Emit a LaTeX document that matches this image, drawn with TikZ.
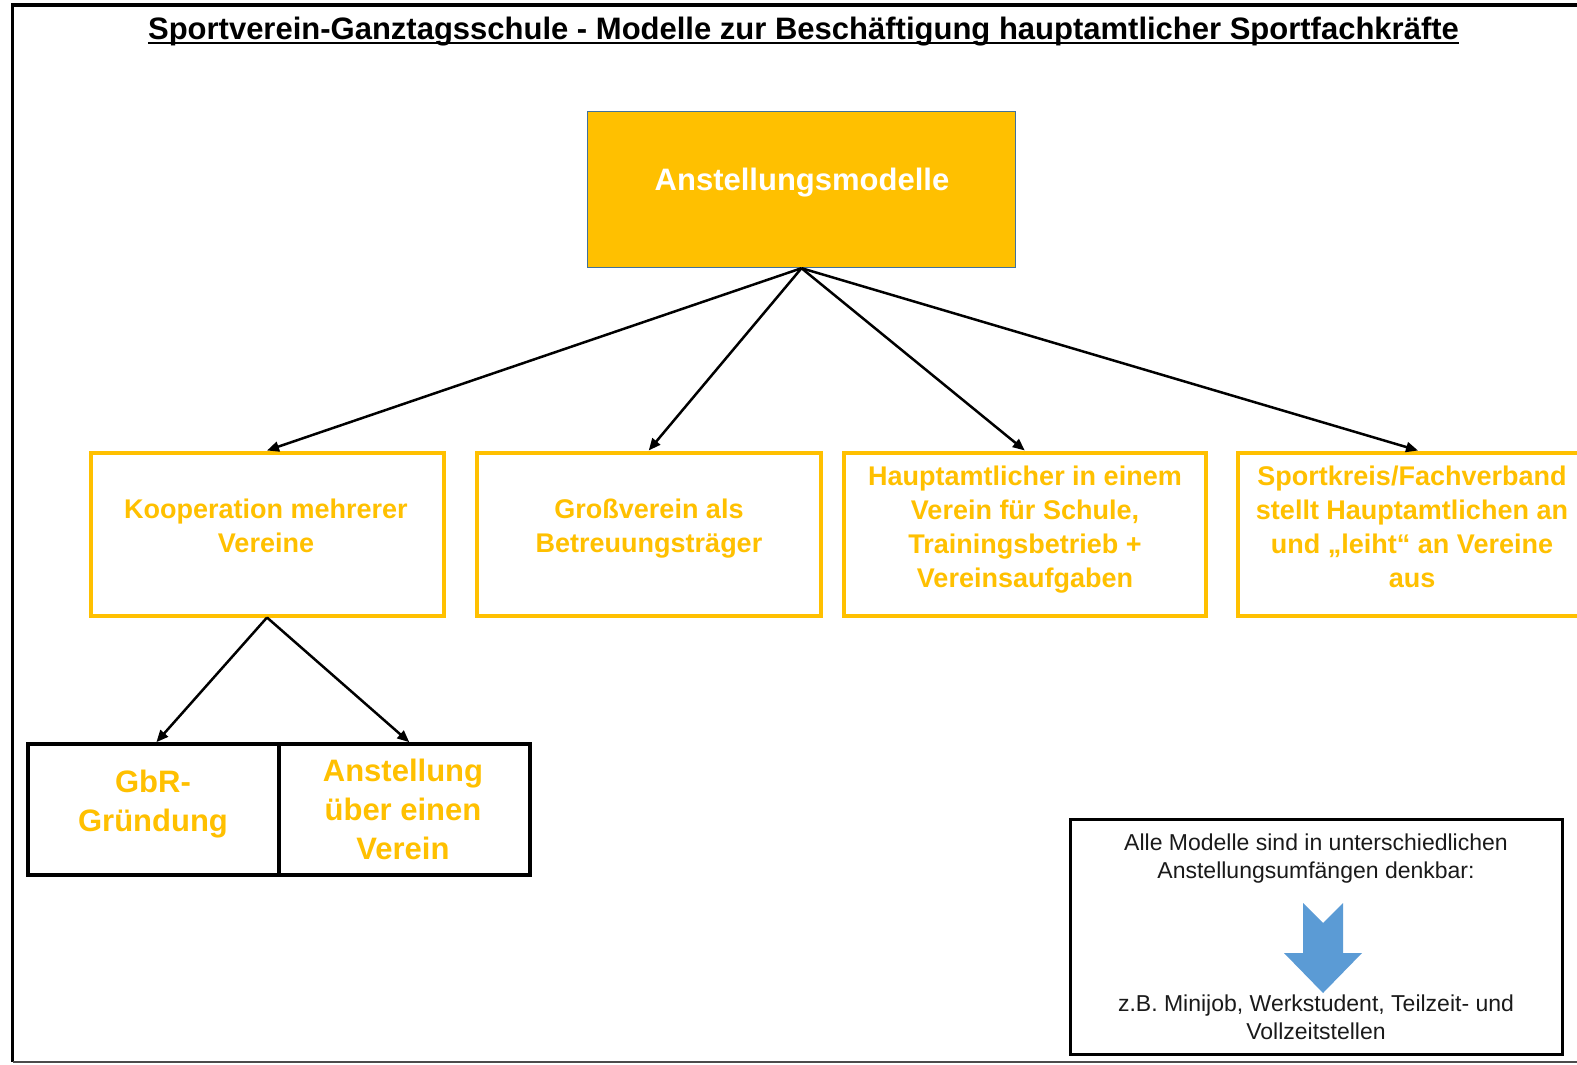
\documentclass[tikz,border=0pt]{standalone}
\usepackage{fontspec}
\setmainfont{Liberation Sans}
\usetikzlibrary{arrows.meta}
\definecolor{gold}{HTML}{FFC000}
\definecolor{bluebd}{HTML}{41719C}
\definecolor{arrowblue}{HTML}{5B9BD5}
\definecolor{txtdark}{HTML}{1A1A1A}
\begin{document}
\begin{tikzpicture}[x=1pt,y=-1pt,
  goldbox/.style={draw=gold, line width=4pt, fill=white, rectangle, inner sep=0pt},
  blackbox/.style={draw=black, line width=4pt, fill=white, rectangle, inner sep=0pt},
  boxtext/.style={text=gold, font=\fontsize{27}{34}\selectfont\bfseries, align=center, inner sep=0pt},
  bigtext/.style={text=gold, font=\fontsize{31}{39}\selectfont\bfseries, align=center, inner sep=0pt},
  notetext/.style={text=txtdark, font=\fontsize{23}{28}\selectfont, align=center, inner sep=0pt},
  conn/.style={line width=2.5pt, -{Triangle[length=12pt,width=10pt]}},
]
\useasboundingbox (0,0) rectangle (1577,1065);
\fill[white] (0,0) rectangle (1577,1065);
% outer frame
\draw[line width=3.5pt] (12.5,1062) -- (12.5,5) -- (1600,5);
\draw[line width=2pt, black!70] (12.5,1062) -- (1600,1062);

% title
\node[anchor=base, inner sep=0pt, font=\fontsize{31}{36}\selectfont\bfseries] (title) at (803.5,39.5) {Sportverein-Ganztagsschule - Modelle zur Beschäftigung hauptamtlicher Sportfachkräfte};
\draw[line width=2pt] ([yshift=-4pt]title.base west) -- ([yshift=-4pt]title.base east);

% top box
\node[draw=bluebd, line width=1.2pt, fill=gold, minimum width=428pt, minimum height=156pt, inner sep=0pt] (top) at (801.5,189.6) {};
\node[text=white, font=\fontsize{31}{36}\selectfont\bfseries, inner sep=0pt] (topT) at (802,183) {Anstellungsmodelle};

% middle boxes
\node[goldbox, minimum width=353pt, minimum height=163pt] (koop) at (267,534) {};
\node[boxtext] (koopT) at (266,526) {Kooperation mehrerer\\Vereine};
\node[goldbox, minimum width=344pt, minimum height=163pt] (gross) at (648.7,534) {};
\node[boxtext] (grossT) at (649,529) {Großverein als\\Betreuungsträger};
\node[goldbox, minimum width=362pt, minimum height=163pt] (haupt) at (1024.8,534) {};
\node[boxtext] (hauptT) at (1025,530) {Hauptamtlicher in einem\\Verein für Schule,\\Trainingsbetrieb +\\Vereinsaufgaben};
\node[goldbox, minimum width=348pt, minimum height=163pt] (sport) at (1412,534) {};
\node[boxtext] (sportT) at (1412,527) {Sportkreis/Fachverband\\stellt Hauptamtlichen an\\und „leiht“ an Vereine\\aus};

% bottom-left boxes
\node[blackbox, minimum width=250.4pt, minimum height=130.8pt] (gbr) at (153.4,809.6) {};
\node[blackbox, minimum width=251.4pt, minimum height=130.8pt] (anst) at (404.3,809.6) {};
\node[bigtext] (gbrT) at (153,804) {GbR-\\Gründung};
\node[bigtext] (anstT) at (403,809) {Anstellung\\über einen\\Verein};

% note box
\node[draw=black, line width=3pt, fill=white, minimum width=492pt, minimum height=235pt, inner sep=0pt] (note) at (1316,937.3) {};
\node[notetext] (noteA) at (1316,859) {Alle Modelle sind in unterschiedlichen\\Anstellungsumfängen denkbar:};
\fill[arrowblue] (1303,903) -- (1323,923) -- (1343,903) -- (1343,953) -- (1362,953) -- (1323,993) -- (1284,953) -- (1303,953) -- cycle;
\node[notetext] (noteB) at (1316,1017) {z.B. Minijob, Werkstudent, Teilzeit- und\\Vollzeitstellen};

% connectors
\draw[conn] (top.south) -- (koop.north);
\draw[conn] (top.south) -- (gross.north);
\draw[conn] (top.south) -- (haupt.north);
\draw[conn] (top.south) -- ([xshift=6pt]sport.north);
\draw[conn] (koop.south) -- ([xshift=3pt]gbr.north);
\draw[conn] (koop.south) -- ([xshift=5pt]anst.north);
\end{tikzpicture}
\end{document}
